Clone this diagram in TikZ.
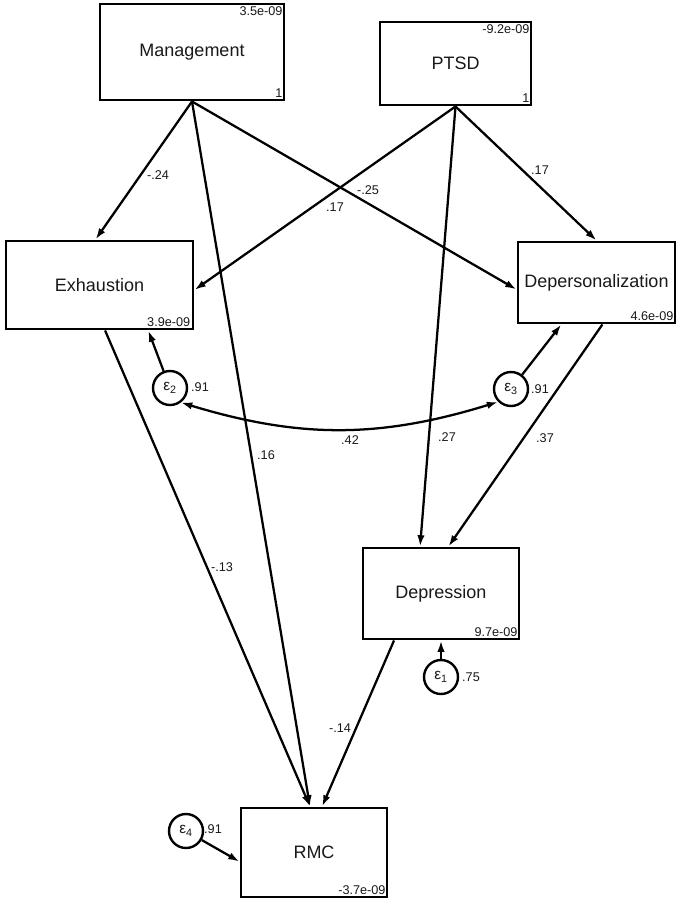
\documentclass[tikz,border=0pt]{standalone}
\usepackage{fontspec}
\setmainfont{Liberation Sans}
\usetikzlibrary{arrows.meta}

\begin{document}
\begin{tikzpicture}[x=0.75pt,y=-0.75pt,
  varbox/.style 2 args={draw=drawColor,line width=2.2pt,minimum width=#1,minimum height=#2,
    inner sep=0pt,text=textColor,font=\fontsize{13.5}{15}\selectfont},
  errnode/.style={circle,draw=drawColor,line width=1.8pt,minimum size=25.5pt,inner sep=0pt,
    text=textColor,font=\fontsize{11.5}{13}\selectfont},
  numlab/.style={inner sep=0pt,text=textColor,font=\fontsize{9.5}{10}\selectfont},
  arrowline/.style={draw=drawColor,line width=1.7pt,-{Latex[length=8.5pt,width=5.5pt]}},
  covline/.style={draw=drawColor,line width=1.7pt,{Latex[length=8.5pt,width=5.5pt]}-{Latex[length=8.5pt,width=5.5pt]}}]
\definecolor{drawColor}{RGB}{0,0,0}
\definecolor{textColor}{RGB}{25,25,25}
\path[use as bounding box,fill=white] (0,0) rectangle (677,900);

% observed variables
\node[varbox={138pt}{72pt}] (mgmt) at (192,52) {Management};
\node[varbox={113.25pt}{62.25pt}] (ptsd) at (455.5,63.5) {PTSD};
\node[varbox={140.25pt}{66pt}] (exh) at (99.5,285) {Exhaustion};
\node[varbox={117.75pt}{60.75pt}] (dep) at (596.5,282.5) {Depersonalization};
\node[varbox={117pt}{68.25pt}] (depr) at (441,593.5) {Depression};
\node[varbox={109.5pt}{66.75pt}] (rmc) at (314,852.5) {RMC};

% means and variances
\node[numlab,anchor=north east] (mgmtM) at ([shift={(-2pt,-3pt)}]mgmt.north east) {3.5e-09};
\node[numlab,anchor=south east] (mgmtV) at ([shift={(-2pt,3pt)}]mgmt.south east) {1};
\node[numlab,anchor=north east] (ptsdM) at ([shift={(-2pt,-3pt)}]ptsd.north east) {-9.2e-09};
\node[numlab,anchor=south east] (ptsdV) at ([shift={(-2pt,3pt)}]ptsd.south east) {1};
\node[numlab,anchor=south east] (exhM) at ([shift={(-3pt,3pt)}]exh.south east) {3.9e-09};
\node[numlab,anchor=south east] (depM) at ([shift={(-2pt,3pt)}]dep.south east) {4.6e-09};
\node[numlab,anchor=south east] (deprM) at ([shift={(-2pt,3pt)}]depr.south east) {9.7e-09};
\node[numlab,anchor=south east] (rmcM) at ([shift={(-2pt,3pt)}]rmc.south east) {-3.7e-09};

% error terms
\node[errnode] (e1) at (441,677) {ε\textsubscript{1}};
\node[errnode] (e2) at (170,388) {ε\textsubscript{2}};
\node[errnode] (e3) at (511,389) {ε\textsubscript{3}};
\node[errnode] (e4) at (186,831) {ε\textsubscript{4}};
\node[numlab] (e1v) at (471,677) {.75};
\node[numlab] (e2v) at (200,387) {.91};
\node[numlab] (e3v) at (540,389) {.91};
\node[numlab] (e4v) at (213,829) {.91};

% paths
\draw[arrowline] (mgmt.south) -- (exh.95);
\draw[arrowline] (mgmt.south) -- (rmc.95);
\draw[arrowline] (mgmt.south) -- (dep.185);
\draw[arrowline] (ptsd.south) -- (exh.357);
\draw[arrowline] (ptsd.south) -- (dep.north);
\draw[arrowline] (ptsd.south) -- (depr.114);
\draw[arrowline] (dep.278) -- (depr.81);
\draw[arrowline] (exh.277) -- (rmc.95);
\draw[arrowline] (depr.225) -- (rmc.80);
\draw[arrowline] (e1) -- (depr.south);
\draw[arrowline] (e2) -- (exh.317);
\draw[arrowline] (e3) -- (dep.230);
\draw[arrowline] (e4) -- (rmc.187);
\draw[covline] (e2.-53) to[bend right=17] (e3.225);

% coefficients
\node[numlab] (cMgExh) at (158,175) {-.24};
\node[numlab] (cMgRmc) at (266,455) {.16};
\node[numlab] (cMgDep) at (368,190) {-.25};
\node[numlab] (cPtExh) at (335,207) {.17};
\node[numlab] (cPtDep) at (540,170) {.17};
\node[numlab] (cPtDepr) at (447,437) {.27};
\node[numlab] (cDepDepr) at (545,438) {.37};
\node[numlab] (cExhRmc) at (222,567) {-.13};
\node[numlab] (cDeprRmc) at (340,728) {-.14};
\node[numlab] (cE2E3) at (350,440) {.42};
\end{tikzpicture}
\end{document}
